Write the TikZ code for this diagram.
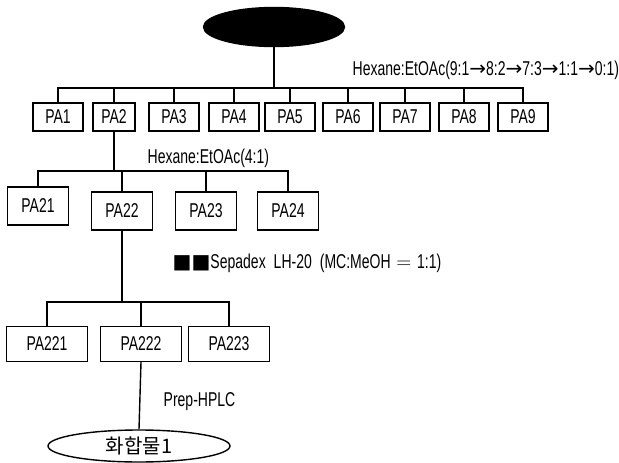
\documentclass[tikz,border=0pt]{standalone}
\usepackage{fontspec}
\setmainfont{Liberation Sans}[FakeStretch=0.7]
\newfontfamily\kofont{Noto Sans CJK KR}
\newfontfamily\symfont{DejaVu Sans}
\usepackage{tikz}
\usetikzlibrary{shapes.geometric}

\begin{document}
\begin{tikzpicture}[
    x=1pt, y=-1pt,
    line width=1.4pt,
    every node/.style={font=\fontsize{20}{22}\selectfont},
    frac/.style={draw, rectangle, minimum width=50pt, minimum height=28pt, inner sep=0pt},
    subfrac/.style={draw, rectangle, minimum width=61pt, minimum height=38pt, inner sep=0pt},
    subsubfrac/.style={draw, rectangle, minimum width=81pt, minimum height=35pt, inner sep=0pt},
    cond/.style={anchor=west, inner sep=0pt}
  ]
    \useasboundingbox (0,0) rectangle (619,463);

    % Extract
    \node[draw, ellipse, fill=black, minimum width=141pt, minimum height=39pt] (ext) at (274,27) {};

    % First column
    \node[frac] (pa1) at (58,117) {PA1};
    \node[frac, minimum width=42pt] (pa2) at (114,117) {PA2};
    \node[frac] (pa3) at (174,117) {PA3};
    \node[frac] (pa4) at (234,117) {PA4};
    \node[frac] (pa5) at (290,117) {PA5};
    \node[frac] (pa6) at (348,117) {PA6};
    \node[frac] (pa7) at (405,117) {PA7};
    \node[frac] (pa8) at (464,117) {PA8};
    \node[frac] (pa9) at (523,117) {PA9};

    \coordinate (busa) at (0,88);
    \draw (ext.south) -- (ext.south |- busa);
    \draw (pa1.north) -- (pa1.north |- busa) -- (pa9.north |- busa) -- (pa9.north);
    \foreach \n in {pa2,pa3,pa4,pa5,pa6,pa7,pa8}
      \draw (\n.north) -- (\n.north |- busa);
    \node[cond] (cola) at (352,70) {Hexane:EtOAc(9:1{\symfont→}8:2{\symfont→}7:3{\symfont→}1:1{\symfont→}0:1)};

    % Second column
    \node[subfrac] (pa21) at (38,206) {PA21};
    \node[subfrac] (pa22) at (122,211) {PA22};
    \node[subfrac] (pa23) at (206,211) {PA23};
    \node[subfrac] (pa24) at (288,211) {PA24};

    \coordinate (busb) at (0,171);
    \draw (pa2.south) -- (pa2.south |- busb);
    \draw (pa21.north) -- (pa21.north |- busb) -- (pa24.north |- busb) -- (pa24.north);
    \foreach \n in {pa22,pa23}
      \draw (\n.north) -- (\n.north |- busb);
    \node[cond] (colb) at (147,158) {Hexane:EtOAc(4:1)};

    % Sephadex
    \node[subsubfrac] (pa221) at (47,344) {PA221};
    \node[subsubfrac] (pa222) at (141,344) {PA222};
    \node[subsubfrac] (pa223) at (229,344) {PA223};

    \coordinate (busc) at (0,302);
    \draw (pa22.south) -- (pa22.south |- busc);
    \draw (pa221.north) -- (pa221.north |- busc) -- (pa223.north |- busc) -- (pa223.north);
    \draw (pa222.north) -- (pa222.north |- busc);
    \node[cond] (colc) at (172,263) {{\symfont ■■}Sepadex\hspace{8pt}LH-20\hspace{8pt}(MC:MeOH${}={}$1:1)};

    % Prep-HPLC
    \node[draw, ellipse, minimum width=182pt, minimum height=32pt, inner sep=0pt] (cpd) at (139,446) {\kofont 화합물1};
    \draw (pa222.south) -- (cpd.north);
    \node[cond] (cold) at (163,402) {Prep-HPLC};
  \end{tikzpicture}
\end{document}
